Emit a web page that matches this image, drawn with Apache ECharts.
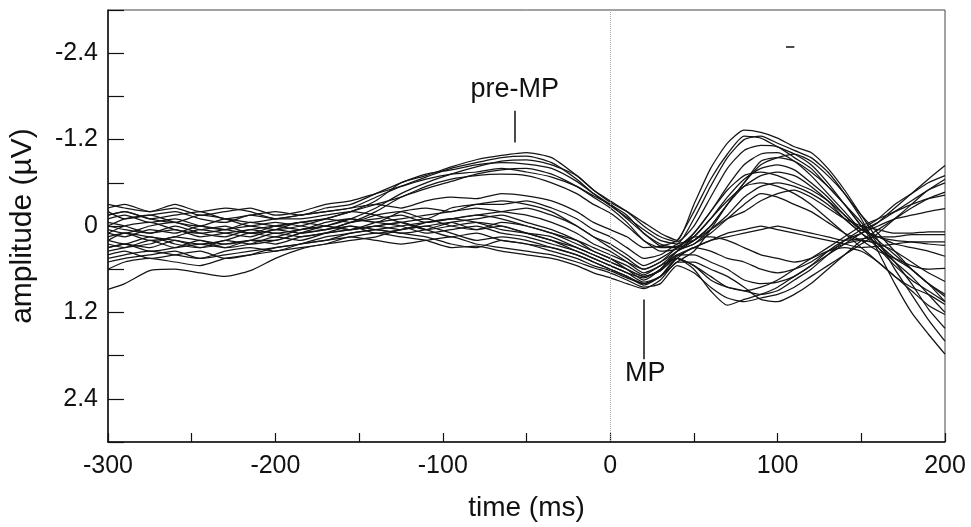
<!DOCTYPE html>
<html>
<head>
<meta charset="utf-8">
<script src="https://cdn.jsdelivr.net/npm/echarts@6/dist/echarts.min.js"></script>
<style>
  html, body { margin: 0; padding: 0; background: #fff; }
  #chart { width: 971px; height: 527px; }
</style>
</head>
<body>
<div id="chart"></div>
<script>
// time axis of the averaged sweeps (ms)
var times = [-300, -290, -275, -260, -245, -230, -215, -200, -185, -170, -155, -140,
  -125, -110, -95, -80, -65, -50, -35, -20, -10, 0, 10, 20,
  30, 40, 50, 60, 70, 80, 90, 100, 110, 120, 130, 140,
  150, 160, 170, 180, 190, 200];

var xLabels = [-300, -200, -100, 0, 100, 200];
var yLabels = [-2.4, -1.2, 0, 1.2, 2.4];

// traces with the pre-MP rise
var a1 = [0.1, 0.0, -0.05, 0.05, 0.1, 0.05, 0.0, 0.05, 0.0, -0.1, -0.2, -0.35,
  -0.6, -0.7, -0.82, -0.92, -0.98, -1.02, -0.95, -0.7, -0.5, -0.33, -0.2, -0.05,
  0.1, 0.2, -0.3, -0.8, -1.15, -1.33, -1.3, -1.22, -1.1, -1.02, -0.8, -0.5,
  -0.15, 0.2, 0.6, 0.95, 1.3, 1.6];
var a2 = [0.0, -0.1, -0.15, -0.05, 0.0, -0.1, -0.05, -0.1, -0.15, -0.2, -0.25, -0.4,
  -0.55, -0.68, -0.8, -0.88, -0.95, -0.97, -0.88, -0.65, -0.45, -0.28, -0.12, 0.05,
  0.2, 0.25, -0.1, -0.55, -0.95, -1.2, -1.25, -1.15, -1.05, -0.95, -0.75, -0.45,
  -0.1, 0.35, 0.8, 1.2, 1.5, 1.78];
var a3 = [0.2, 0.1, 0.15, 0.2, 0.25, 0.2, 0.1, 0.15, 0.05, 0.0, -0.1, -0.25,
  -0.45, -0.6, -0.72, -0.82, -0.9, -0.92, -0.85, -0.7, -0.5, -0.35, -0.2, 0.0,
  0.15, 0.22, 0.0, -0.4, -0.8, -1.05, -1.12, -1.1, -0.95, -0.8, -0.55, -0.3,
  0.0, 0.2, 0.4, 0.6, 0.8, 1.05];
var a4 = [-0.15, -0.2, -0.1, -0.15, -0.2, -0.1, -0.15, -0.2, -0.15, -0.25, -0.3, -0.45,
  -0.6, -0.72, -0.78, -0.85, -0.88, -0.86, -0.8, -0.62, -0.45, -0.3, -0.15, 0.1,
  0.25, 0.3, 0.1, -0.2, -0.55, -0.85, -1.0, -1.02, -0.9, -0.7, -0.45, -0.2,
  0.05, 0.15, 0.25, 0.3, 0.35, 0.42];
var a5 = [0.3, 0.25, 0.3, 0.2, 0.3, 0.25, 0.2, 0.2, 0.1, 0.05, -0.05, -0.2,
  -0.4, -0.52, -0.62, -0.72, -0.78, -0.8, -0.72, -0.55, -0.4, -0.25, -0.05, 0.2,
  0.3, 0.28, 0.15, -0.1, -0.4, -0.65, -0.8, -0.85, -0.78, -0.6, -0.4, -0.15,
  0.05, -0.05, -0.2, -0.35, -0.5, -0.65];
var a6 = [-0.25, -0.3, -0.2, -0.25, -0.15, -0.2, -0.25, -0.15, -0.2, -0.3, -0.35, -0.45,
  -0.55, -0.65, -0.72, -0.75, -0.8, -0.75, -0.68, -0.55, -0.42, -0.3, -0.1, 0.1,
  0.28, 0.3, 0.2, 0.0, -0.3, -0.55, -0.7, -0.75, -0.7, -0.55, -0.35, -0.1,
  0.1, 0.3, 0.5, 0.7, 0.95, 1.2];
var a7 = [0.1, 0.15, 0.05, 0.1, 0.0, 0.05, 0.1, 0.0, -0.05, -0.1, -0.2, -0.3,
  -0.4, -0.55, -0.65, -0.7, -0.72, -0.7, -0.6, -0.45, -0.3, -0.18, 0.0, 0.2,
  0.35, 0.32, 0.25, 0.05, -0.15, -0.4, -0.55, -0.6, -0.55, -0.45, -0.3, -0.1,
  0.1, 0.25, 0.45, 0.6, 0.8, 0.95];

// traces without it
var b1 = [-0.3, -0.25, -0.2, -0.3, -0.2, -0.25, -0.2, -0.1, -0.15, -0.2, -0.25, -0.3,
  -0.25, -0.35, -0.4, -0.38, -0.45, -0.42, -0.35, -0.2, -0.05, 0.05, 0.15, 0.3,
  0.28, 0.2, -0.2, -0.65, -1.0, -1.25, -1.22, -1.1, -1.0, -0.85, -0.6, -0.3,
  0.0, 0.3, 0.55, 0.75, 0.9, 1.05];
var b2 = [0.5, 0.45, 0.4, 0.35, 0.45, 0.4, 0.35, 0.3, 0.25, 0.2, 0.1, 0.05,
  0.0, -0.05, -0.1, -0.15, -0.2, -0.25, -0.15, 0.0, 0.15, 0.3, 0.45, 0.6,
  0.5, 0.35, 0.2, 0.0, -0.3, -0.6, -0.9, -0.95, -0.9, -0.75, -0.55, -0.3,
  -0.05, 0.25, 0.5, 0.8, 1.15, 1.42];
var b3 = [-0.1, -0.15, -0.05, -0.1, 0.0, 0.05, -0.05, 0.0, -0.05, -0.1, -0.05, -0.15,
  -0.2, -0.1, -0.25, -0.3, -0.35, -0.3, -0.2, 0.0, 0.15, 0.25, 0.4, 0.55,
  0.45, 0.3, 0.1, -0.2, -0.5, -0.7, -0.75, -0.7, -0.6, -0.5, -0.35, -0.15,
  0.05, 0.15, 0.2, 0.22, 0.25, 0.27];
var b4 = [0.2, 0.25, 0.15, 0.25, 0.3, 0.2, 0.25, 0.2, 0.1, 0.0, 0.05, -0.05,
  -0.1, -0.15, -0.2, -0.25, -0.2, -0.15, -0.05, 0.1, 0.25, 0.35, 0.5, 0.65,
  0.55, 0.35, 0.15, -0.1, -0.35, -0.55, -0.6, -0.55, -0.45, -0.3, -0.1, 0.1,
  0.3, 0.5, 0.7, 0.85, 0.95, 1.09];
var b5 = [0.4, 0.35, 0.45, 0.4, 0.35, 0.45, 0.4, 0.3, 0.25, 0.15, 0.1, 0.05,
  0.1, 0.05, -0.05, -0.1, -0.15, -0.05, 0.05, 0.2, 0.35, 0.45, 0.6, 0.75,
  0.6, 0.35, 0.25, 0.1, -0.1, -0.3, -0.45, -0.4, -0.3, -0.2, -0.05, 0.1,
  0.2, 0.35, 0.45, 0.55, 0.6, 0.59];
var b6 = [0.0, 0.05, 0.1, 0.0, 0.1, 0.15, 0.05, 0.1, 0.05, 0.0, -0.1, -0.05,
  -0.2, -0.25, -0.2, -0.3, -0.3, -0.35, -0.25, -0.1, 0.05, 0.15, 0.3, 0.45,
  0.4, 0.25, 0.2, 0.05, -0.1, -0.2, -0.35, -0.45, -0.5, -0.4, -0.25, -0.1,
  0.0, 0.05, 0.1, 0.1, 0.08, 0.08];
var b7 = [0.3, 0.25, 0.35, 0.3, 0.2, 0.3, 0.25, 0.15, 0.2, 0.1, 0.0, 0.05,
  0.1, 0.15, 0.25, 0.3, 0.2, 0.25, 0.3, 0.4, 0.5, 0.6, 0.7, 0.8,
  0.7, 0.45, 0.6, 0.9, 1.1, 1.02, 0.95, 0.85, 0.7, 0.55, 0.4, 0.25,
  0.1, -0.05, -0.25, -0.45, -0.65, -0.84];
var b8 = [-0.2, -0.1, -0.15, -0.2, -0.1, -0.05, -0.15, -0.1, -0.1, -0.15, -0.2, -0.15,
  -0.05, 0.05, 0.0, -0.05, 0.0, 0.1, 0.2, 0.35, 0.45, 0.55, 0.65, 0.78,
  0.7, 0.45, 0.55, 0.75, 0.85, 0.9, 0.95, 0.9, 0.75, 0.6, 0.4, 0.2,
  0.05, -0.1, -0.3, -0.45, -0.6, -0.7];
var b9 = [0.45, 0.4, 0.35, 0.4, 0.45, 0.35, 0.3, 0.35, 0.25, 0.2, 0.15, 0.1,
  0.15, 0.2, 0.3, 0.28, 0.35, 0.4, 0.45, 0.55, 0.65, 0.72, 0.8, 0.87,
  0.75, 0.5, 0.5, 0.6, 0.7, 0.85, 1.02, 1.05, 0.95, 0.8, 0.6, 0.4,
  0.2, 0.05, -0.1, -0.25, -0.38, -0.47];
var b10 = [-0.05, 0.0, 0.1, 0.05, 0.15, 0.1, 0.05, 0.0, 0.05, -0.05, -0.1, -0.05,
  0.0, 0.1, 0.05, 0.0, 0.1, 0.15, 0.25, 0.35, 0.45, 0.55, 0.65, 0.72,
  0.6, 0.4, 0.4, 0.5, 0.6, 0.75, 0.8, 0.78, 0.7, 0.55, 0.35, 0.2,
  0.1, 0.0, -0.1, -0.15, -0.2, -0.24];
var b11 = [0.15, 0.1, 0.2, 0.15, 0.05, 0.1, 0.15, 0.05, 0.1, 0.05, 0.0, 0.1,
  0.05, 0.0, 0.1, 0.2, 0.15, 0.2, 0.3, 0.4, 0.5, 0.6, 0.7, 0.82,
  0.7, 0.45, 0.3, 0.35, 0.45, 0.5, 0.6, 0.65, 0.6, 0.5, 0.35, 0.25,
  0.2, 0.25, 0.35, 0.5, 0.65, 0.77];
var b12 = [0.25, 0.3, 0.2, 0.3, 0.25, 0.3, 0.2, 0.25, 0.15, 0.1, 0.05, 0.0,
  -0.05, -0.1, 0.0, 0.05, -0.05, 0.0, 0.1, 0.2, 0.3, 0.4, 0.5, 0.6,
  0.5, 0.3, 0.15, 0.15, 0.2, 0.3, 0.4, 0.45, 0.5, 0.45, 0.35, 0.3,
  0.35, 0.5, 0.7, 0.9, 1.1, 1.23];
var b13 = [-0.15, -0.2, -0.1, -0.05, -0.15, -0.1, 0.0, -0.05, 0.0, 0.05, -0.05, -0.1,
  -0.15, -0.05, -0.1, -0.15, -0.1, 0.0, 0.1, 0.25, 0.35, 0.45, 0.55, 0.68,
  0.55, 0.45, 0.55, 0.7, 0.85, 0.9, 0.85, 0.75, 0.6, 0.45, 0.3, 0.15,
  0.0, -0.1, -0.2, -0.3, -0.38, -0.43];
var b14 = [0.6, 0.5, 0.45, 0.5, 0.55, 0.45, 0.4, 0.35, 0.3, 0.25, 0.15, 0.2,
  0.25, 0.2, 0.15, 0.25, 0.3, 0.35, 0.4, 0.5, 0.58, 0.65, 0.75, 0.85,
  0.8, 0.55, 0.65, 0.85, 1.0, 1.05, 1.0, 0.95, 0.85, 0.7, 0.55, 0.4,
  0.25, 0.1, -0.1, -0.3, -0.5, -0.6];
var b15 = [0.88, 0.8, 0.62, 0.6, 0.65, 0.7, 0.62, 0.45, 0.32, 0.25, 0.2, 0.15,
  0.05, 0.0, -0.05, 0.05, 0.0, 0.1, 0.2, 0.3, 0.4, 0.5, 0.6, 0.7,
  0.62, 0.42, 0.3, 0.2, 0.1, 0.05, 0.0, 0.05, 0.1, 0.15, 0.2, 0.25,
  0.3, 0.28, 0.25, 0.22, 0.22, 0.22];
var b16 = [0.05, 0.1, 0.0, -0.05, 0.05, 0.0, 0.1, 0.05, -0.05, 0.0, 0.05, 0.0,
  0.05, -0.05, -0.1, -0.05, 0.05, 0.1, 0.15, 0.3, 0.4, 0.5, 0.6, 0.7,
  0.62, 0.4, 0.3, 0.2, 0.15, 0.1, 0.05, 0.0, 0.05, 0.1, 0.15, 0.2,
  0.18, 0.15, 0.15, 0.12, 0.12, 0.12];
var b17 = [0.35, 0.3, 0.25, 0.15, 0.2, 0.25, 0.2, 0.1, 0.15, 0.1, 0.05, 0.0,
  -0.05, 0.05, 0.15, 0.1, 0.2, 0.25, 0.35, 0.45, 0.55, 0.62, 0.72, 0.8,
  0.7, 0.5, 0.35, 0.05, -0.3, -0.6, -0.85, -0.95, -1.0, -0.9, -0.7, -0.45,
  -0.15, 0.1, 0.35, 0.6, 0.8, 0.98];

var traces = [a1, a2, a3, a4, a5, a6, a7, b1, b2, b3, b4, b5, b6, b7, b8, b9,
  b10, b11, b12, b13, b14, b15, b16, b17];

var font = 'Liberation Sans, Arial, Helvetica, sans-serif';

var series = traces.map(function (tr, k) {
    return {
        type: 'line',
        data: times.map(function (t, i) { return [t, tr[i]]; }),
        showSymbol: false,
        smooth: 0.2,
        silent: true,
        lineStyle: {color: '#151515', width: 1.25}
    };
});

// dotted zero line, annotation strokes and labels
series[0].markLine = {
    silent: true,
    symbol: 'none',
    label: {show: false},
    lineStyle: {color: '#111', width: 1.5, type: 'solid'},
    data: [
        {xAxis: 0, lineStyle: {color: '#aaa', width: 1, type: 'dotted'}},
        [{coord: [-57, -1.6]}, {coord: [-57, -1.16]}],
        [{coord: [20, 1.02]}, {coord: [20, 1.85]}],
        [{coord: [105, -2.49]}, {coord: [110, -2.49]}]
    ]
};
series[0].markPoint = {
    silent: true,
    symbol: 'circle',
    symbolSize: 1,
    itemStyle: {color: 'rgba(0,0,0,0)'},
    label: {
        show: true, position: 'inside', formatter: '{b}',
        color: '#111', fontSize: 27, fontFamily: font
    },
    data: [
        {name: 'pre-MP', coord: [-57, -1.9]},
        {name: 'MP', coord: [21, 2.05]}
    ]
};

var myChart = echarts.init(document.getElementById('chart'));
var option = {
    animation: false,
    backgroundColor: '#fff',
    grid: {
        left: 108, right: 26, top: 10, bottom: 83,
        show: true, borderColor: '#444', borderWidth: 1
    },
    xAxis: {
        type: 'value',
        min: -300, max: 200, interval: 50,
        name: 'time (ms)',
        nameLocation: 'middle',
        nameGap: 52,
        nameTextStyle: {color: '#111', fontSize: 28, fontFamily: font},
        axisLine: {onZero: false, lineStyle: {color: '#111', width: 1.5}},
        axisTick: {inside: true, length: 9, lineStyle: {color: '#111', width: 1.2}},
        axisLabel: {
            color: '#111', fontSize: 25, fontFamily: font, margin: 12,
            formatter: function (v) {
                return xLabels.indexOf(v) >= 0 ? String(v) : '';
            }
        },
        splitLine: {show: false}
    },
    yAxis: {
        type: 'value',
        inverse: true,
        min: -3, max: 3, interval: 0.6,
        name: 'amplitude (µV)',
        nameLocation: 'middle',
        nameRotate: 90,
        nameGap: 70,
        nameTextStyle: {color: '#111', fontSize: 30, fontFamily: font},
        axisLine: {onZero: false, lineStyle: {color: '#111', width: 1.5}},
        axisTick: {inside: true, length: 16, lineStyle: {color: '#111', width: 1.2}},
        axisLabel: {
            color: '#111', fontSize: 25, fontFamily: font, margin: 10,
            formatter: function (v) {
                var r = Math.round(v * 10) / 10;
                for (var i = 0; i < yLabels.length; i++) {
                    if (Math.abs(yLabels[i] - r) < 1e-6) {
                        return r === 0 ? '0' : r.toFixed(1);
                    }
                }
                return '';
            }
        },
        splitLine: {show: false}
    },
    series: series
};
myChart.setOption(option);
</script>
</body>
</html>
